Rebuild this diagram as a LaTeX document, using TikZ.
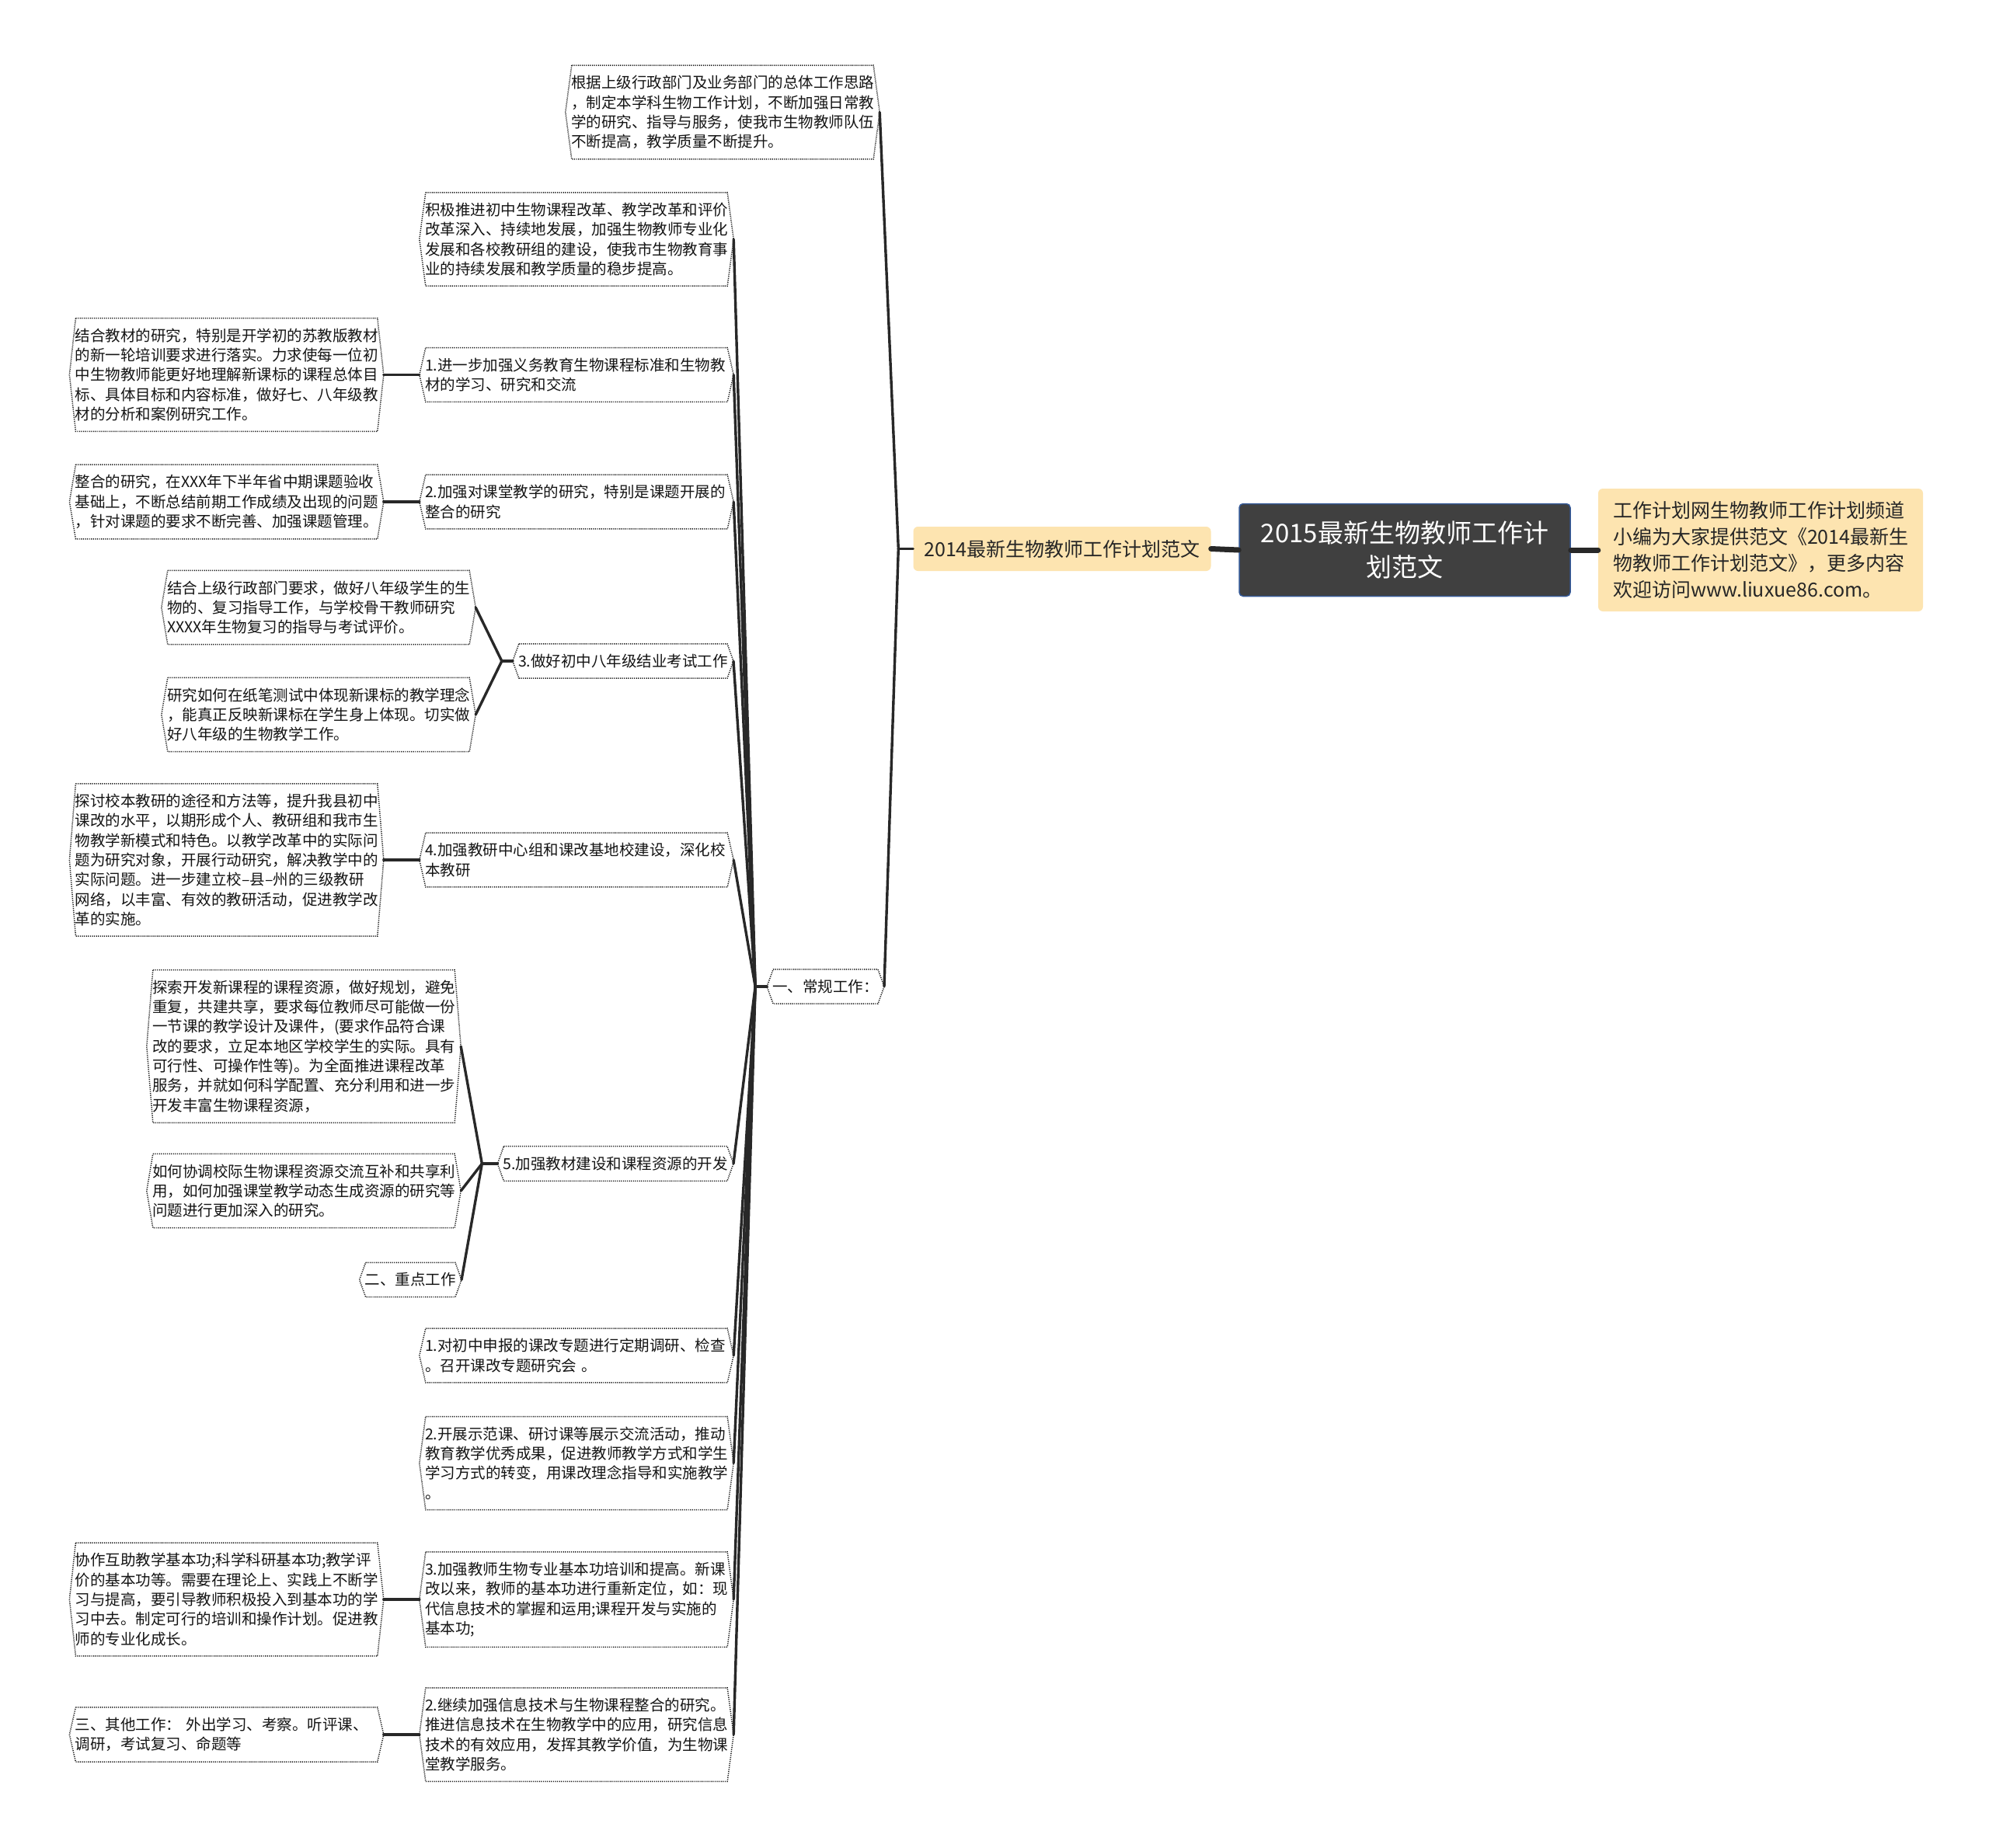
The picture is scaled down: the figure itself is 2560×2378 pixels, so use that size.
\documentclass[tikz,border=0pt]{standalone}
\usepackage{fontspec}
\usetikzlibrary{positioning,calc}
\newfontfamily\cjk{Noto Sans CJK SC}
\definecolor{linkgray}{RGB}{40,40,40}
\definecolor{cream}{RGB}{253,228,176}
\definecolor{rootgray}{RGB}{64,64,64}
\definecolor{rootedge}{RGB}{52,88,150}
\tikzset{
  leaf/.style={font=\cjk\fontsize{19.5}{25.3}\selectfont,text=black!92,align=left,
    inner xsep=7pt,inner ysep=13pt},
  wide/.style={leaf,text width=390pt},
  hexline/.style={draw=black!90,line width=1.5pt,dash pattern=on 1.2pt off 1.4pt},
  link/.style={draw=linkgray,line width=3.4pt,line cap=round},
  cream box/.style={fill=cream,rounded corners=6pt,text=black!85,inner sep=0pt},
}
\begin{document}
\begin{tikzpicture}[x=1pt,y=-1pt]
\fill[white] (0,0) rectangle (2560,2378);
\useasboundingbox (0,0) rectangle (2560,2378);

% centre and first level
\node[rounded corners=5pt,fill=rootgray,draw=rootedge,line width=1.5pt,text=white,align=center,
  font=\cjk\fontsize{33}{44}\selectfont,minimum width=426pt,minimum height=119pt] (root) at (1808,708)
  {2015最新生物教师工作计\\划范文};
\node[cream box,font=\cjk\fontsize{25}{34}\selectfont,align=left,text width=380pt,
  minimum width=418pt,minimum height=158pt] (note) at (2266,708)
  {工作计划网生物教师工作计划频道\\小编为大家提供范文《2014最新生\\物教师工作计划范文》，更多内容\\欢迎访问www.liuxue86.com。};
\node[cream box,font=\cjk\fontsize{25}{34}\selectfont,minimum width=383pt,minimum height=57pt] (y14) at (1367,706.5)
  {2014最新生物教师工作计划范文};

% second level
\node[wide] (gen) at (930,144.5) {根据上级行政部门及业务部门的总体工作思路\\，制定本学科生物工作计划，不断加强日常教\\学的研究、指导与服务，使我市生物教师队伍\\不断提高，教学质量不断提升。};
\node[leaf,anchor=east] (cg) at (1138,1270) {一、常规工作：};

% items under cg
\node[wide] (jiji) at (742,308) {积极推进初中生物课程改革、教学改革和评价\\改革深入、持续地发展，加强生物教师专业化\\发展和各校教研组的建设，使我市生物教育事\\业的持续发展和教学质量的稳步提高。};
\node[wide] (n1) at (742,482.5) {1.进一步加强义务教育生物课程标准和生物教\\材的学习、研究和交流};
\node[wide] (n2) at (742,646) {2.加强对课堂教学的研究，特别是课题开展的\\整合的研究};
\node[leaf,anchor=east] (n3) at (944,851) {3.做好初中八年级结业考试工作};
\node[wide] (n4) at (742,1107) {4.加强教研中心组和课改基地校建设，深化校\\本教研};
\node[leaf,anchor=east] (n5) at (944,1498) {5.加强教材建设和课程资源的开发};
\node[wide] (m1) at (742,1745) {1.对初中申报的课改专题进行定期调研、检查\\。召开课改专题研究会 。};
\node[wide] (m2) at (742,1883.5) {2.开展示范课、研讨课等展示交流活动，推动\\教育教学优秀成果，促进教师教学方式和学生\\学习方式的转变，用课改理念指导和实施教学\\。};
\node[wide] (m3) at (742,2059) {3.加强教师生物专业基本功培训和提高。新课\\改以来，教师的基本功进行重新定位，如：现\\代信息技术的掌握和运用;课程开发与实施的\\基本功;};
\node[wide] (m4) at (742,2233) {2.继续加强信息技术与生物课程整合的研究。\\推进信息技术在生物教学中的应用，研究信息\\技术的有效应用，发挥其教学价值，为生物课\\堂教学服务。};

% leaves
\node[wide,left=46pt of n1] (jc) {结合教材的研究，特别是开学初的苏教版教材\\的新一轮培训要求进行落实。力求使每一位初\\中生物教师能更好地理解新课标的课程总体目\\标、具体目标和内容标准，做好七、八年级教\\材的分析和案例研究工作。};
\node[wide,left=46pt of n2] (zh) {整合的研究，在XXX年下半年省中期课题验收\\基础上，不断总结前期工作成绩及出现的问题\\，针对课题的要求不断完善、加强课题管理。};
\node[wide] (sj) at (410,782) {结合上级行政部门要求，做好八年级学生的生\\物的、复习指导工作，与学校骨干教师研究\\XXXX年生物复习的指导与考试评价。};
\node[wide] (yj) at (410,920) {研究如何在纸笔测试中体现新课标的教学理念\\，能真正反映新课标在学生身上体现。切实做\\好八年级的生物教学工作。};
\node[wide,left=46pt of n4] (tt) {探讨校本教研的途径和方法等，提升我县初中\\课改的水平，以期形成个人、教研组和我市生\\物教学新模式和特色。以教学改革中的实际问\\题为研究对象，开展行动研究，解决教学中的\\实际问题。进一步建立校–县–州的三级教研\\网络，以丰富、有效的教研活动，促进教学改\\革的实施。};
\node[wide] (ts) at (391,1347) {探索开发新课程的课程资源，做好规划，避免\\重复，共建共享，要求每位教师尽可能做一份\\一节课的教学设计及课件，(要求作品符合课\\改的要求，立足本地区学校学生的实际。具有\\可行性、可操作性等)。为全面推进课程改革\\服务，并就如何科学配置、充分利用和进一步\\开发丰富生物课程资源，};
\node[wide] (hx) at (391,1533) {如何协调校际生物课程资源交流互补和共享利\\用，如何加强课堂教学动态生成资源的研究等\\问题进行更加深入的研究。};
\node[leaf,anchor=east] (zd) at (594,1647.5) {二、重点工作};
\node[wide,left=46pt of m3] (xz) {协作互助教学基本功;科学科研基本功;教学评\\价的基本功等。需要在理论上、实践上不断学\\习与提高，要引导教师积极投入到基本功的学\\习中去。制定可行的培训和操作计划。促进教\\师的专业化成长。};
\node[wide,left=46pt of m4] (qt) {三、其他工作：  外出学习、考察。听评课、\\调研，考试复习、命题等};

% dotted outlines
\foreach \n in {gen,cg,jiji,n1,n2,n3,n4,n5,m1,m2,m3,m4,jc,zh,sj,yj,tt,ts,hx,zd,xz,qt}
  \draw[hexline] ([xshift=8pt]\n.north west) -- ([xshift=-8pt]\n.north east) -- (\n.east)
    -- ([xshift=-8pt]\n.south east) -- ([xshift=8pt]\n.south west) -- (\n.west) -- cycle;

% connectors
\draw[linkgray,line width=7pt,line cap=round] (y14.east) -- (root.west);
\draw[linkgray,line width=7pt,line cap=round] (root.east) -- (note.west);
\coordinate (h0) at ([xshift=-19pt]y14.west);
\draw[link] (y14.west) -- (h0);
\foreach \kid in {gen,cg} \draw[link] (h0) -- (\kid.east);
\coordinate (h1) at ([xshift=-15pt]cg.west);
\draw[link] (cg.west) -- (h1);
\foreach \kid in {jiji,n1,n2,n3,n4,n5,m1,m2,m3,m4} \draw[link] (h1) -- (\kid.east);
\draw[link] (n1.west) -- (jc.east);
\draw[link] (n2.west) -- (zh.east);
\draw[link] (n4.west) -- (tt.east);
\draw[link] (m3.west) -- (xz.east);
\draw[link] (m4.west) -- (qt.east);
\coordinate (h3) at ([xshift=-14pt]n3.west);
\draw[link] (n3.west) -- (h3);
\foreach \kid in {sj,yj} \draw[link] (h3) -- (\kid.east);
\coordinate (h5) at ([xshift=-20pt]n5.west);
\draw[link] (n5.west) -- (h5);
\foreach \kid in {ts,hx,zd} \draw[link] (h5) -- (\kid.east);
\end{tikzpicture}
\end{document}
